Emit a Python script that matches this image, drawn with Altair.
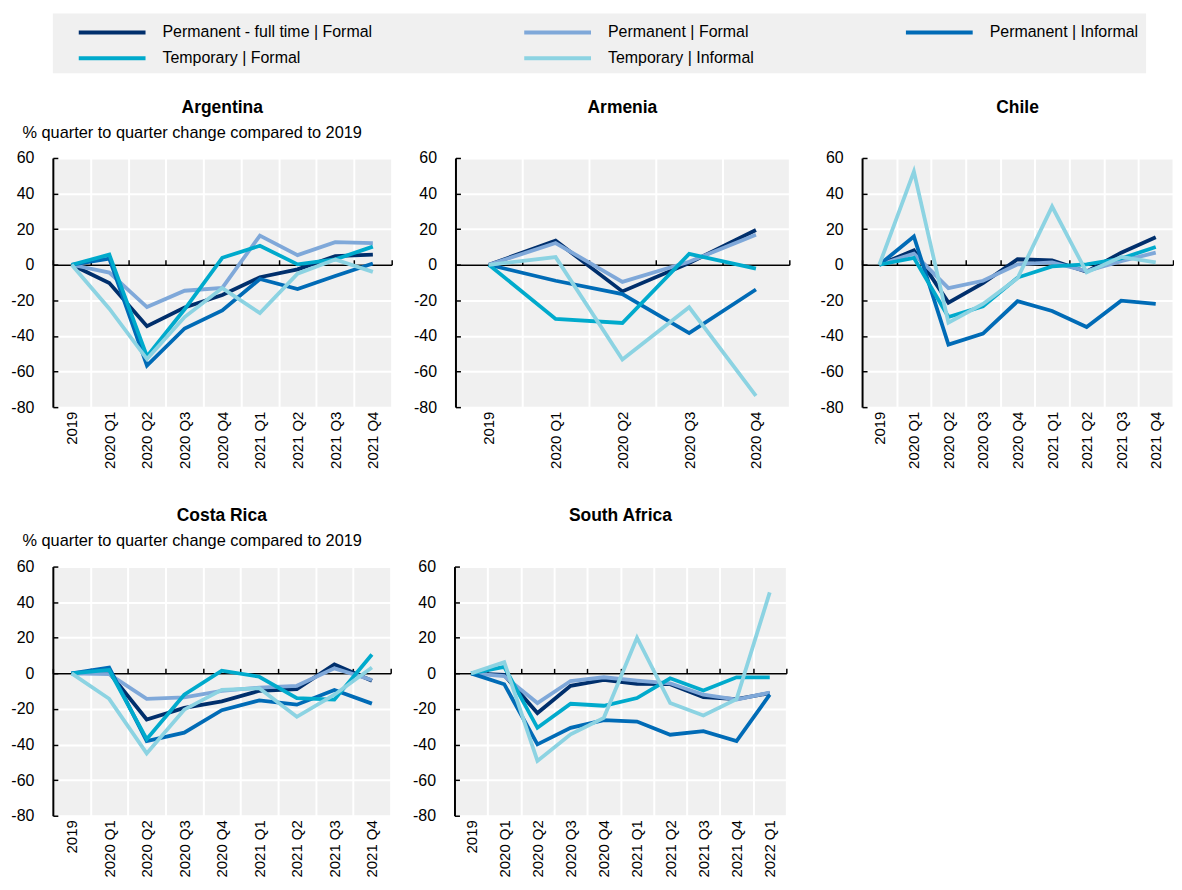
import altair as alt
import pandas as pd

SERIES = ["Permanent - full time | Formal", "Permanent | Formal", "Permanent | Informal",
          "Temporary | Formal", "Temporary | Informal"]
COLORS = ["#002F6C", "#7FA8D9", "#006BB6", "#00AACC", "#8CD3E2"]
Y_TICKS = [-80, -60, -40, -20, 0, 20, 40, 60]

periods_q = ["2019", "2020 Q1", "2020 Q2", "2020 Q3", "2020 Q4", "2021 Q1", "2021 Q2", "2021 Q3", "2021 Q4"]
periods_arm = ["2019", "2020 Q1", "2020 Q2", "2020 Q3", "2020 Q4"]
periods_za = ["2019", "2020 Q1", "2020 Q2", "2020 Q3", "2020 Q4", "2021 Q1", "2021 Q2", "2021 Q3", "2021 Q4", "2022 Q1"]

# Argentina
arg_pft_f = [0, -10.3, -34.5, -24, -17, -7, -2.6, 4.8, 5.7]
arg_p_f = [0, -4.4, -23.8, -14.6, -13, 16.4, 5.4, 12.7, 12.2]
arg_p_i = [0, 3.5, -56.7, -35.8, -25.7, -8, -13.7, -6.3, 0.7]
arg_t_f = [0, 5.7, -51.5, -25, 3.9, 10.7, 0.2, 3, 10.2]
arg_t_i = [0, -24.7, -53, -29.4, -13.1, -27.2, -5, 3, -4]

# Armenia
arm_pft_f = [0, 13.5, -15, 1, 19.5]
arm_p_f = [0, 12.2, -9.6, 1.7, 16.9]
arm_p_i = [0, -9, -16.5, -38.4, -13.9]
arm_t_f = [0, -30.4, -32.7, 6.1, -2.2]
arm_t_i = [0, 4.3, -53.2, -23.9, -73.7]

# Chile
chl_pft_f = [0, 8.1, -21.3, -10.4, 3.1, 2.4, -3.9, 6.8, 15.5]
chl_p_f = [0, 6.3, -13.1, -9, 0.2, 1.3, -3.5, 2, 6.8]
chl_p_i = [0, 15.9, -44.9, -38.7, -20.5, -26, -35, -20.2, -22]
chl_t_f = [0, 3.9, -29.4, -23.3, -7.2, -0.9, 0.2, 3.5, 10]
chl_t_i = [0, 52.3, -32.5, -22, -7.6, 32.7, -4.3, 4.4, 1.3]

# Costa Rica
cri_pft_f = [0, 0.4, -25.9, -19.4, -15.7, -9.8, -8.9, 5, -4.1]
cri_p_f = [0, -0.4, -14.3, -13.5, -9.8, -8, -7, 2.8, -3.7]
cri_p_i = [0, 3.3, -38, -33.3, -20.7, -15.2, -17.6, -9.3, -17]
cri_t_f = [0, 1.9, -37, -12, 1.5, -1.9, -13.9, -14.8, 10.6]
cri_t_i = [0, -14.3, -45, -20.4, -9.3, -8.3, -24.4, -12, 3.3]

# South Africa
zaf_pft_f = [0, -0.9, -22.3, -7, -3.7, -5.9, -6.1, -13.4, -14.5, -11.1]
zaf_p_f = [0, -1.5, -16.7, -4.3, -2.2, -4.1, -5.6, -12, -14.8, -10.8]
zaf_p_i = [0, -6.1, -39.9, -30.6, -26.3, -27.1, -34.5, -32.5, -38, -12]
zaf_t_f = [0, 3.7, -30.6, -17.1, -18.2, -13.9, -2.8, -9.6, -2.2, -2.2]
zaf_t_i = [0, 6.3, -49.2, -34.3, -25, 20, -16.7, -23.7, -14.5, 45.5]

FONT = "Liberation Sans, Arial, sans-serif"
YTITLE = "% quarter to quarter change compared to 2019"
H = 250

LEGEND = alt.Legend(
    orient="top", direction="horizontal", columns=3, offset=25,
    title="\u00a0", titleOrient="left", titleFontSize=1, titlePadding=17,
    symbolType="M-1,0H5.7", symbolSize=400, symbolStrokeWidth=4,
    labelFontSize=16, labelLimit=400, labelOffset=62, columnPadding=144,
    rowPadding=6, padding=7, fillColor="#f0f0f0", labelColor="black",
    labelFont=FONT, symbolFillColor="transparent",
)


def panel(name, periods, vals, width, ytitle=None, title_offset=8, min_extent=None):
    rows = []
    for s, v in zip(SERIES, vals):
        for p, x in zip(periods, v):
            rows.append({"period": p, "series": s, "value": x})
    df = pd.DataFrame(rows)
    yscale = alt.Scale(domain=[-80, 60], nice=False, zero=False)
    xscale = alt.Scale(type="band", paddingInner=0, paddingOuter=0)
    yk = dict(values=Y_TICKS, grid=True, gridColor="white", gridWidth=2, domain=False,
              ticks=False, tickSize=0, labelPadding=19, labelFontSize=16,
              labelColor="black", labelExpr="'' + datum.value")
    if ytitle:
        yk.update(title=ytitle, titleAngle=0, titleAlign="left", titleBaseline="alphabetic",
                  titleX=-31, titleY=-21, titleFontSize=16.4, titleFontWeight="normal",
                  titleColor="black")
    else:
        yk.update(title=None)
    if min_extent:
        yk.update(minExtent=min_extent)
    lines = alt.Chart(df).mark_line(strokeWidth=3.8, strokeCap="butt").encode(
        x=alt.X("period:N", sort=periods, scale=xscale, bandPosition=0.5,
                axis=alt.Axis(orient="bottom", tickBand="extent", grid=True, gridColor="white",
                              gridWidth=2, ticks=False, domain=False, labelAngle=-90,
                              labelPadding=4, labelFontSize=15, labelColor="black", title=None)),
        y=alt.Y("value:Q", scale=yscale, axis=alt.Axis(**yk)),
        color=alt.Color("series:N", scale=alt.Scale(domain=SERIES, range=COLORS), legend=LEGEND),
    )
    helper = alt.Chart(df).mark_point(opacity=0).encode(
        x=alt.X("period:N", sort=periods, scale=xscale, bandPosition=0.5,
                axis=alt.Axis(orient="top", offset=-H * 60 / 140, labels=False, ticks=True,
                              tickSize=5, tickColor="black", tickWidth=1.5, tickBand="extent",
                              domain=True, domainColor="black", domainWidth=1.5, grid=False,
                              title=None)),
        y=alt.Y("value:Q", scale=yscale,
                axis=alt.Axis(orient="right", offset=-width, labels=False, ticks=True, tickSize=5,
                              tickColor="black", tickWidth=1.5, values=Y_TICKS, domain=True,
                              domainColor="black", domainWidth=2, grid=False, title=None)),
    )
    return alt.layer(lines, helper).resolve_axis(x="independent", y="independent").properties(
        width=width, height=H,
        title=alt.TitleParams(name, offset=title_offset, fontSize=17.5, fontWeight="bold",
                              color="black", font=FONT, anchor="middle"),
    )


arg = panel("Argentina", periods_q, [arg_pft_f, arg_p_f, arg_p_i, arg_t_f, arg_t_i], 340, YTITLE, 8)
arm = panel("Armenia", periods_arm, [arm_pft_f, arm_p_f, arm_p_i, arm_t_f, arm_t_i], 335, None, 34)
chl = panel("Chile", periods_q, [chl_pft_f, chl_p_f, chl_p_i, chl_t_f, chl_t_i], 312, None, 34, 52)
cri = panel("Costa Rica", periods_q, [cri_pft_f, cri_p_f, cri_p_i, cri_t_f, cri_t_i], 339, YTITLE, 8)
zaf = panel("South Africa", periods_za, [zaf_pft_f, zaf_p_f, zaf_p_i, zaf_t_f, zaf_t_i], 333, None, 34)

chart = alt.vconcat(
    alt.hconcat(arg, arm, chl, spacing=20),
    alt.hconcat(cri, zaf, spacing=20),
    spacing=38,
).properties(
    padding={"left": 2, "top": 4, "right": 0, "bottom": 0}
).configure(
    font=FONT
).configure_view(
    fill="#f0f0f0", strokeWidth=0
).configure_axis(
    labelFont=FONT, titleFont=FONT
)

chart.save("out.html", embed_options={"renderer": "svg", "actions": False})
